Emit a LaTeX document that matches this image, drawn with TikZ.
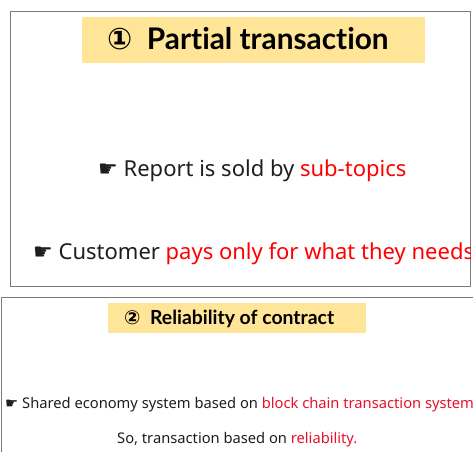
\documentclass[tikz,border=0pt]{standalone}
\usepackage{fontspec}
\setmainfont{Noto Sans}
\newfontfamily\headfont[Ligatures=NoCommon]{Lato}
\newfontfamily\symfont{DejaVu Sans}
\definecolor{panelline}{HTML}{7A7A7A}
\definecolor{titlefill}{HTML}{FFE598}
\definecolor{hot}{HTML}{FF0000}
\definecolor{hotdark}{HTML}{E8102A}
\definecolor{ink}{HTML}{1E1E1E}
\newcommand{\hand}{{\symfont\char"261B}}
\tikzset{
  panel/.style={draw=panelline, line width=0.9pt},
  titlebox/.style={fill=titlefill, draw=none, inner sep=0pt},
  headtext/.style={font=\headfont\bfseries, text=black, inner sep=0pt, anchor=base west},
  bodytext/.style={text=ink, inner sep=0pt, anchor=base west},
}
\begin{document}
\begin{tikzpicture}[x=1pt, y=-1pt]
\useasboundingbox (0,0) rectangle (473,451);

% ---- panel 1: partial transaction ----
\draw[panel] (10,11) rectangle (470,286);
\node[titlebox, minimum width=343pt, minimum height=46pt] (t1box) at (253.5,40) {};
\node[headtext, font=\headfont\bfseries\fontsize{29.8}{32}\selectfont] (t1) at (107,49.5) {{\symfont\char"2460}\ \ Partial transaction};
\begin{scope}
  % the second line runs past the panel edge and is cut there
  \clip (10,11) rectangle (470,286);
  \node[bodytext, font=\fontsize{22}{26}\selectfont] (p1a) at (98,176.5)
    {\hand\ Report is sold by \textcolor{hot}{sub-topics}};
  \node[bodytext, font=\fontsize{22}{26}\selectfont] (p1b) at (33,259)
    {\hand\ Customer \textcolor{hot}{pays only for what they needs}};
\end{scope}

% ---- panel 2: reliability of contract ----
\draw[panel] (473,297) -- (1,297) -- (1,452);
\node[titlebox, minimum width=258pt, minimum height=30pt] (t2box) at (237,318) {};
\node[headtext, font=\headfont\bfseries\fontsize{19.4}{21}\selectfont] (t2) at (124,324.5) {{\symfont\char"2461}\ \ Reliability of contract};
\node[bodytext, font=\fontsize{14.7}{18}\selectfont] (p2a) at (5,408.5)
  {\hand\ Shared economy system based on \textcolor{hotdark}{block chain transaction system}};
\node[bodytext, font=\fontsize{14.7}{18}\selectfont] (p2b) at (117,443.5)
  {So, transaction based on \textcolor{hotdark}{reliability.}};
\end{tikzpicture}
\end{document}
